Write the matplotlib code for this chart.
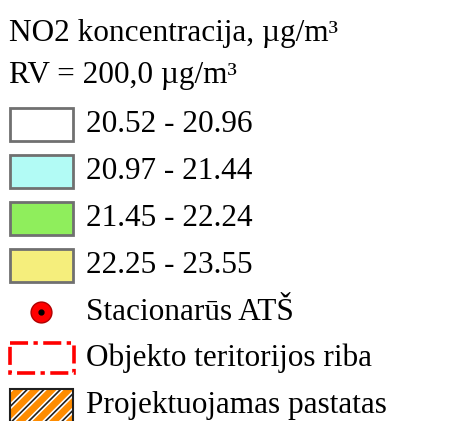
import matplotlib.pyplot as plt
import matplotlib.patches as mpatches

title = "NO2 koncentracija, µg/m³"
subtitle = "RV = 200,0 µg/m³"
ranges = ["20.52 - 20.96", "20.97 - 21.44", "21.45 - 22.24", "22.25 - 23.55"]
range_colors = ["#ffffff", "#b2fbf5", "#8fee5c", "#f5ee7c"]
other_labels = ["Stacionarūs ATŠ", "Objekto teritorijos riba", "Projektuojamas pastatas"]

plt.rcParams['font.family'] = ['Liberation Serif', 'DejaVu Serif']

fig = plt.figure(figsize=(4.69, 4.21), dpi=100)
ax = fig.add_axes([0, 0, 1, 1])
ax.set_xlim(0, 469)
ax.set_ylim(421, 0)
ax.axis('off')

fs = 22.5
tx = 86

ax.text(9, 33, title, fontsize=fs, va='center', ha='left')
ax.text(9, 76, subtitle, fontsize=fs, va='center', ha='left')

# colour classes
y0 = 124
step = 47.3
for i, (lab, col) in enumerate(zip(ranges, range_colors)):
    yc = y0 + i * step
    ax.add_patch(mpatches.Rectangle((10, yc - 16.5), 63, 33, facecolor=col,
                                    edgecolor='#707070', linewidth=2))
    ax.text(tx, yc, lab, fontsize=fs, va='center', ha='left')

# station marker
ys = 312
ax.plot(41, ys, 'o', markersize=15, markerfacecolor='#ff0000',
        markeredgecolor='#b00000', markeredgewidth=1)
ax.plot(41, ys, 'o', markersize=3.5, color='black')
ax.text(tx, ys, other_labels[0], fontsize=fs, va='center', ha='left')

# territory boundary
yb = 358
ax.add_patch(mpatches.Rectangle((10, yb - 15), 64, 30, facecolor='none',
                                edgecolor='#ff0000', linewidth=2.6,
                                linestyle=(0, (5, 1.5, 1.2, 1.5))))
ax.text(tx, yb, other_labels[1], fontsize=fs, va='center', ha='left')

# projected building: orange with white + black diagonal stripes
yp = 406
plt.rcParams['hatch.linewidth'] = 3.5
ax.add_patch(mpatches.Rectangle((10, yp - 17), 63, 36, facecolor='#ff8c00',
                                edgecolor='white', linewidth=0, hatch='//'))
plt.rcParams['hatch.linewidth'] = 1.2
ax.add_patch(mpatches.Rectangle((10, yp - 17), 63, 36, facecolor='none',
                                edgecolor='#202020', linewidth=1.5, hatch='//'))
ax.text(tx, yp, other_labels[2], fontsize=fs, va='center', ha='left')

fig.savefig('out.png', dpi=100)
